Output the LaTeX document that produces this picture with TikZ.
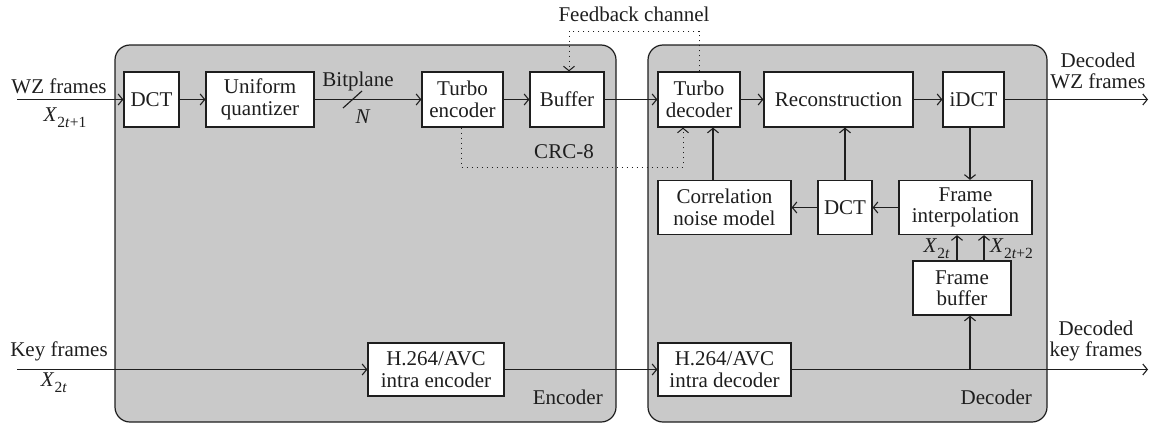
\documentclass[tikz,border=0pt]{standalone}
\usepackage{fontspec}
\setmainfont{Liberation Serif}
\usetikzlibrary{arrows.meta,calc}
\definecolor{panelfill}{RGB}{201,201,201}
\definecolor{inkgray}{RGB}{30,30,30}
% italic frame symbol with a smaller, lowered index
\newcommand{\frameX}[1]{\textit{X}\kern0.3pt\raisebox{-0.27em}{\fontsize{15.5}{15.5}\selectfont #1}}
\begin{document}
\begin{tikzpicture}[x=1pt,y=-1pt,
  every node/.style={font=\fontsize{21}{21.5}\selectfont, text=inkgray},
  panel/.style={draw=inkgray, line width=1.2pt, fill=panelfill, rounded corners=15pt},
  blk/.style={draw=inkgray, line width=1.25pt, fill=white, inner sep=0pt, align=center},
  arr/.style={draw=inkgray, line width=1.15pt, -{Straight Barb[length=4.5pt,width=11pt,line width=1.1pt]}},
  ln/.style={draw=inkgray, line width=1.15pt},
  dotarr/.style={draw=inkgray, line width=1pt, dash pattern=on 1pt off 4pt, -{Straight Barb[length=4.5pt,width=11pt,line width=1pt]}},
  lbl/.style={inner sep=0pt, align=center}]
\useasboundingbox (0,0) rectangle (1151,423);

% encoder and decoder panels
\draw[panel] (115,45) rectangle (616,422);
\draw[panel] (648,45) rectangle (1047,422);
\node[lbl, anchor=east] (enclbl) at (603,397) {Encoder};
\node[lbl, anchor=east] (declbl) at (1032,397) {Decoder};

% processing blocks
\node[blk, minimum width=55pt, minimum height=55pt] (dcta) at (151.5,99.5) {DCT};
\node[blk, minimum width=108pt, minimum height=55pt] (uq) at (260,99.5) {Uniform\\quantizer};
\node[blk, minimum width=81pt, minimum height=55pt] (tenc) at (462.5,99.5) {Turbo\\encoder};
\node[blk, minimum width=74pt, minimum height=55pt] (buf) at (567,99.5) {Buffer};
\node[blk, minimum width=82pt, minimum height=55pt] (tdec) at (699,99.5) {Turbo\\decoder};
\node[blk, minimum width=149pt, minimum height=55pt] (rec) at (838.5,99.5) {Reconstruction};
\node[blk, minimum width=61pt, minimum height=55pt] (idct) at (973.5,99.5) {iDCT};
\node[blk, minimum width=133pt, minimum height=54pt] (cnm) at (724.5,207.5) {Correlation\\noise model};
\node[blk, minimum width=54pt, minimum height=54pt] (dctb) at (845,207.5) {DCT};
\node[blk, minimum width=133pt, minimum height=54pt] (fi) at (965.5,207.5) {Frame\\interpolation};
\node[blk, minimum width=98pt, minimum height=54pt] (fb) at (962,288) {Frame\\buffer};
\node[blk, minimum width=136pt, minimum height=53pt] (henc) at (436,369.5) {H.264/AVC\\intra encoder};
\node[blk, minimum width=133pt, minimum height=53pt] (hdec) at (724.5,369.5) {H.264/AVC\\intra decoder};

% free ends of the input and output lines
\coordinate (wzin) at (17,99.5);
\coordinate (wzout) at (1148,99.5);
\coordinate (keyin) at (17,369.5);
\coordinate (keyout) at (1148,369.5);

% inputs
\node[lbl] (wzlbl) at (59,86) {WZ frames};
\node[lbl] (wzsym) at (65,118) {\frameX{2\textit{t}+1}};
\node[lbl] (keylbl) at (59,351) {Key frames};
\node[lbl] (keysym) at (54,383) {\frameX{2\textit{t}}};

% outputs
\node[lbl] (wzdec) at (1098,71) {Decoded\\WZ frames};
\node[lbl] (keydec) at (1096,341) {Decoded\\key frames};

% WZ path
\draw[arr] (wzin) -- (dcta.west);
\draw[arr] (dcta.east) -- (uq.west);
\draw[arr] (uq.east) -- (tenc.west);
\coordinate (bp) at (352.5,99.5);
\draw[ln] ($(bp)+(-9.5,8.5)$) -- ($(bp)+(9.5,-8.5)$);
\node[lbl] (bplbl) at (358,81) {Bitplane};
\node[lbl] (nlbl) at (363,117) {\textit{N}};
\draw[arr] (tenc.east) -- (buf.west);
\draw[arr] (buf.east) -- (tdec.west);
\draw[arr] (tdec.east) -- (rec.west);
\draw[arr] (rec.east) -- (idct.west);
\draw[arr] (idct.east) -- (wzout);

% side information loop
\coordinate (xmid) at (970,0);
\draw[arr] (xmid |- idct.south) -- (xmid |- fi.north);
\draw[arr] (fi.west) -- (dctb.east);
\draw[arr] (dctb.west) -- (cnm.east);
\coordinate (xcn) at (713,0);
\draw[arr] (xcn |- cnm.north) -- (xcn |- tdec.south);
\draw[arr] (dctb.north) -- (dctb.north |- rec.south);
\coordinate (xa) at (957,0);
\coordinate (xb) at (984,0);
\draw[arr] (xa |- fb.north) -- (xa |- fi.south);
\draw[arr] (xb |- fb.north) -- (xb |- fi.south);
\node[lbl, anchor=east] (xa lbl) at (950,249) {\frameX{2\textit{t}}};
\node[lbl, anchor=west] (xb lbl) at (990,249) {\frameX{2\textit{t}+2}};

% key frame path
\draw[arr] (keyin) -- (henc.west);
\draw[arr] (henc.east) -- (hdec.west);
\draw[arr] (hdec.east) -- (keyout);
\draw[arr] (xmid |- keyin) -- (xmid |- fb.south);

% feedback channel
\coordinate (fbtop) at (0,31);
\coordinate (xfr) at (699,0);
\coordinate (xfl) at (569,0);
\draw[dotarr] (xfr |- tdec.north) -- (xfr |- fbtop) -- (xfl |- fbtop) -- (xfl |- buf.north);
\node[lbl] (fblbl) at (634,14) {Feedback channel};

% CRC side channel
\coordinate (crcrow) at (0,167);
\coordinate (xcl) at (461,0);
\coordinate (xcr) at (683,0);
\draw[dotarr] (xcl |- tenc.south) -- (xcl |- crcrow) -- (xcr |- crcrow) -- (xcr |- tdec.south);
\node[lbl] (crclbl) at (564,152) {CRC-8};
\end{tikzpicture}
\end{document}
